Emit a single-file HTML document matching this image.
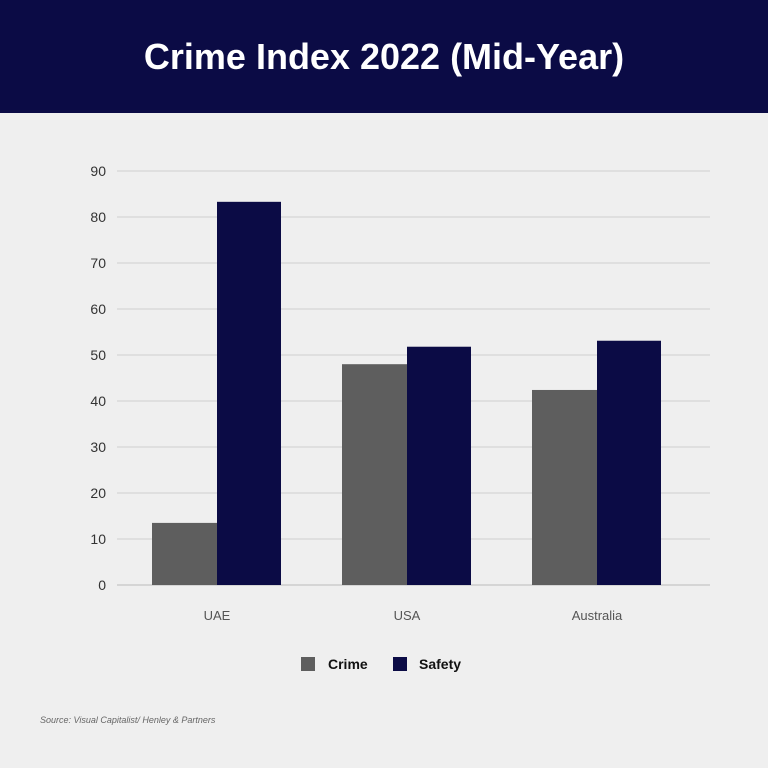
<!DOCTYPE html>
<html><head><meta charset="utf-8"><style>
body{margin:0;width:768px;height:768px;background:#efefef;font-family:"Liberation Sans",sans-serif;overflow:hidden;position:relative}
#hdr{position:absolute;left:0;top:0;width:768px;height:113px;background:#0b0b45;color:#fff;font-weight:bold;font-size:36px;text-align:center;line-height:113px}
svg{position:absolute;left:0;top:0}
</style></head><body>
<div id="hdr">Crime Index 2022 (Mid-Year)</div>
<svg id="c" width="768" height="768"></svg>
<script>
const categories=["UAE","USA","Australia"];
const crime=[13.5,48.0,42.4];
const safety=[83.3,51.8,53.1];
const ticks=[0,10,20,30,40,50,60,70,80,90];
const svg=document.getElementById('c');
const NS="http://www.w3.org/2000/svg";
const y=v=>585-v*4.6;
const xC=i=>152+i*190;
function mk(t,a){const e=document.createElementNS(NS,t);for(const k in a)e.setAttribute(k,a[k]);svg.appendChild(e);return e;}
ticks.forEach(t=>{
 const l=mk('line',{x1:117,x2:710,y1:y(t),y2:y(t),stroke:t===0?'#bbb':'#cfcfcf','stroke-width':1});
 
 
 const tx=mk('text',{x:106,y:y(t)+5,'text-anchor':'end','font-size':14,fill:'#333','font-family':'Liberation Sans, sans-serif'});
 tx.textContent=t;
 
 
});
categories.forEach((c,i)=>{
 const x=xC(i);
 const b1=mk('rect',{x:x,y:y(crime[i]),width:65,height:crime[i]*4.6,fill:'#5e5e5e'});
 
 
 const b2=mk('rect',{x:x+65,y:y(safety[i]),width:64,height:safety[i]*4.6,fill:'#0b0b45'});
 
 
 const t=mk('text',{x:x+65,y:620,'text-anchor':'middle','font-size':13,fill:'#555','font-family':'Liberation Sans, sans-serif'});
 t.textContent=c;
 
 
});
</script>
<svg width="768" height="768" style="pointer-events:none">
<g font-family="Liberation Sans, sans-serif" font-weight="bold" font-size="14" fill="#111">
<rect x="301" y="657" width="14" height="14" fill="#5e5e5e"/>
<text x="328" y="669">Crime</text>
<rect x="393" y="657" width="14" height="14" fill="#0b0b45"/>
<text x="419" y="669">Safety</text>
</g>
<text x="40" y="723" font-size="9" font-style="italic" fill="#666" font-family="Liberation Sans, sans-serif">Source: Visual Capitalist/ Henley &amp; Partners</text>
</svg>
</body></html>
